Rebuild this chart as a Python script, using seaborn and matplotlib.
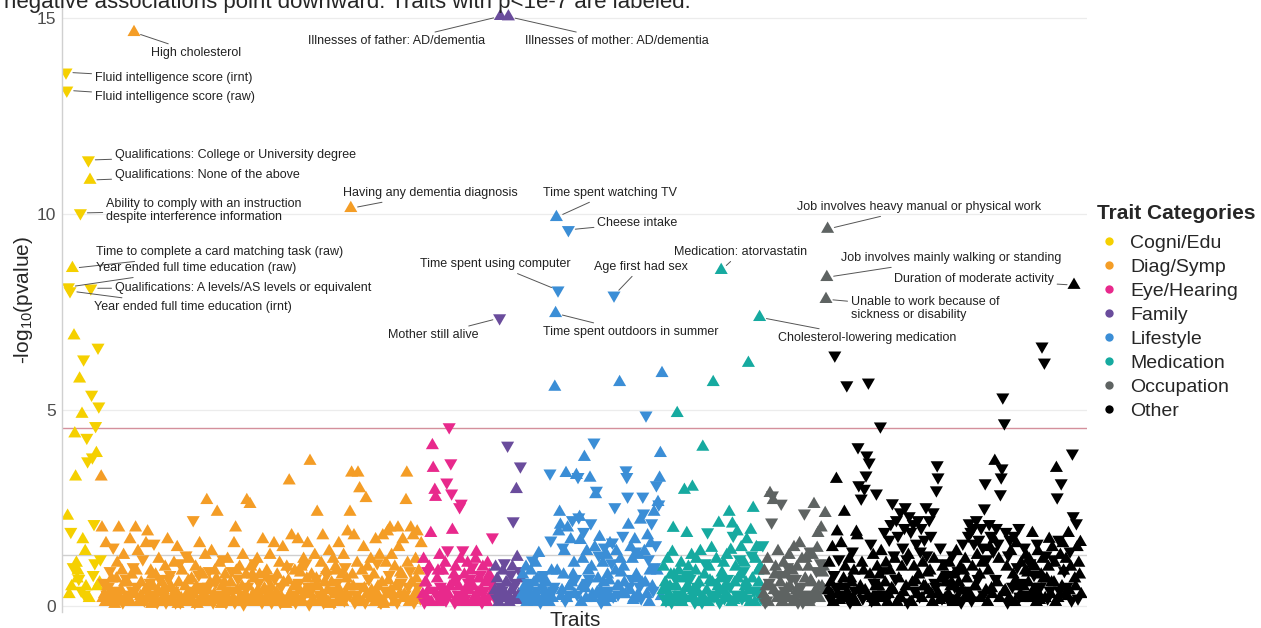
import pandas as pd
import seaborn as sns
import matplotlib.pyplot as plt
from matplotlib.lines import Line2D

# Data input: signed -log10(p) per trait, in trait order.
# Positive = positive association (triangle up), negative = negative association (triangle down)
categories = ['Cogni/Edu', 'Diag/Symp', 'Eye/Hearing', 'Family', 'Lifestyle', 'Medication', 'Occupation', 'Other']
colors = ['#F5D000', '#F49D26', '#E8298C', '#6A4C9C', '#3B8ED6', '#16AAA0', '#5E6362', '#000000']

cogni_edu = [-13.62, -13.16, 2.3, -8.14, 0.3, -8.04, -1.9, 0.5, 8.62, -1.0, 6.9, 4.4, 3.3, 1.1, 0.7,
             0.9, -0.7, 5.8, -10.03, -0.4, 4.9, 1.7, -6.3, -0.3, 1.4, 0.5, -4.3, -3.7, -11.38, 0.2,
             10.87, -8.11, -5.4, -3.8, -0.8, -2.1, -1.1, -4.6, 3.9, 0.5, -6.6, -5.1, 0.6, -1.2]

diag_symp = [
    3.3, 2.0, 0.2, -0.6, 0.3, 0.1, 1.6, -0.3, 0.5, -0.5, 0.1, -0.9, 0.3, 0.7, 0.15, -1.5, 0.2, 0.05, -0.4, 0.7, 1.1, 0.3, 2.0, -0.2, -0.2,
    0.4, 0.9, -0.1, 1.3, 0.6, 0.2, -0.7, 0.1, 0.6, 0.1, -0.3, 1.7, 0.1, 0.8, -0.4, -1.0, 14.64, 0.3, 2.0, 0.9, -0.5, 1.4, 0.1, -0.2, 0.25,
    0.6, 0.2, -1.2, 0.1, -0.15, 0.4, 1.6, -0.2, 1.9, 0.5, 0.3, -0.6, 0.9, 0.05, 0.8, 0.5, -1.6, 0.2, 0.8, -0.3, -0.1, 0.4, 1.2, -0.7, 0.1,
    0.1, 0.6, -0.3, 0.4, 0.45, 1.0, -0.1, 0.2, 1.7, -0.7, 0.1, -0.8, 0.5, 0.2, 0.2, -0.4, 1.1, 0.3, -0.1, 0.35, 1.5, 0.05, 0.6, -1.1, -0.1,
    0.2, 0.9, -0.2, 0.1, 0.1, 0.5, -1.3, 0.3, 0.1, 0.65, 1.2, -0.4, 0.2, 0.7, -0.25, -2.2, 0.3, -0.1, 1.0, 0.5, 0.05, 0.4, -0.8, 1.6, 0.85,
    0.2, -0.5, 0.8, 0.1, 0.3, 1.3, -0.2, 2.7, 0.4, -0.5, -0.9, 0.6, 0.1, 1.4, 0.15, -0.1, 0.3, 0.9, -0.6, 0.7, 2.4, 0.2, -0.3, 1.1, -0.2,
    0.05, 0.5, -1.2, 0.3, 0.6, 0.8, -0.1, 0.2, 1.2, 0.1, -0.4, 0.1, 0.6, -0.9, -0.4, 0.2, 1.6, -0.1, 2.0, 0.9, 0.4, -0.7, 0.1, 1.0, 0.25,
    -0.3, 0.5, 1.3, -0.05, -0.15, 0.3, 0.8, 2.7, -0.5, 0.5, 0.1, 2.6, 1.0, -0.2, 0.8, 0.3, 0.7, -1.1, 0.1, -0.3, 1.2, 0.4, -0.6, 0.8, 0.1,
    0.2, -0.1, 1.7, 0.4, 0.45, -0.8, 0.1, 0.9, 0.3, -0.7, -0.4, 1.3, 0.5, -0.1, 0.2, 0.1, 1.6, -0.7, 0.3, 0.35, 0.8, -0.2, 0.1, 1.1, -0.1,
    -0.5, 0.2, 1.5, 0.6, 0.1, -0.2, 0.05, 1.0, -1.0, 0.65, 3.2, 0.3, 0.1, 1.8, -0.25, -0.3, 0.5, 0.9, -0.1, 0.5, 0.2, 1.7, -0.6, 0.4, 0.85,
    1.0, -0.2, 0.1, 1.2, 0.3, 0.4, -1.1, 0.7, 1.6, -0.5, -0.05, 3.7, 0.3, 0.8, 0.15, -0.5, 0.1, 1.3, -0.7, 0.7, 2.4, 0.5, 0.1, -0.3, -0.2,
    1.1, 0.3, 1.8, -0.1, 0.6, 0.2, 0.9, -0.8, 0.4, 0.1, 1.4, 0.05, -0.4, 0.6, -0.4, 1.2, -0.1, 0.3, 1.0, 0.9, -0.6, 0.1, 1.6, 0.4, 0.25,
    -0.2, 0.8, 0.1, 1.3, -0.15, -1.0, 0.3, 0.7, 1.9, 0.5, -0.3, 2.4, 10.15, 3.4, 0.8, 0.5, 1.8, -0.1, 0.2, -0.3, 1.1, 3.4, 0.2, 3.0, 0.1,
    -0.5, 0.9, 0.1, 1.5, 0.45, -0.1, 2.75, 0.3, 1.0, -0.7, -0.7, 0.2, 1.2, 0.4, 0.2, -0.3, 0.8, 0.1, 1.7, 0.35, -1.1, 0.5, 0.2, 1.3, -0.1,
    -0.1, 0.6, 1.8, 0.05, 0.1, -0.4, 1.1, 0.3, 1.9, 0.65, -0.8, 2.0, 0.4, 1.3, -0.25, -0.2, 0.1, 1.0, 0.5, 0.5, -0.1, 2.0, 1.5, 0.3, 0.85,
    -0.6, 0.8, 1.7, 0.2, 0.3, -0.3, 2.7, 3.4, 1.1, -0.5, 0.1, -0.9, 2.0, 0.6, 0.15, 1.8, -0.1, 0.3, 1.2, 0.7, 1.9, -0.5, 0.9, 0.2, -0.2,
    1.6, -0.3]

eye_hearing = [
    0.3, 1.2, -0.1, 0.6, 0.6, 0.2, -0.9, 0.4, 1.0, 0.1, 1.86, 0.1, 4.1, 3.52, -0.4, 2.96, 2.78, -0.3, 0.7, 0.9, 0.1, 1.3, -0.5, 0.2, 0.25,
    0.9, -0.2, 0.4, 1.1, -0.15, -3.16, -1.43, 0.3, -4.57, 0.5, -3.65, -2.88, 1.94, 0.6, 0.8, -0.1, 1.0, 0.2, -0.7, -0.3, 0.5, -2.53, 1.2, -2.62, 0.1,
    -1.43, 0.3, 0.8, -0.2, 0.45, 0.1, 1.1, -0.6, 0.4, -0.7, 0.9, 0.1, -1.0, 0.5, 0.2, 0.2, 1.2, 1.38, -0.3, 0.35, 0.7, 0.1, -0.8, 0.4, -0.1,
    1.0, 0.2, -0.4, 0.6, 0.1, 0.1, 1.1, -0.2, 0.8, 0.65, 0.3, -0.6, -1.76, 0.5, -0.25]

family = [0.4, 1.0, -0.2, 0.7, 0.3, 0.1, -7.35, 15.05, -0.5, -0.4, 0.9, 0.2, -1.1, 0.3, 0.6, 0.6, -4.1,
          15.04, 0.1, 0.2, -0.8, 0.4, 1.0, -2.17, -0.5, 0.2, -0.6, 2.98, 1.25, 0.15, 0.3, -0.9, -3.57, 0.7]

lifestyle = [
    0.3, 0.8, -0.2, 0.5, 0.3, 1.0, 0.1, -0.6, 0.4, -0.5, 0.2, 0.9, -0.3, -1.17, 0.15, 0.6, 0.1, 1.1, -0.4, 0.7, 0.2, 1.35, 0.7, -0.1, -0.2,
    0.5, 0.2, -0.8, 0.4, 0.6, 0.1, 0.6, -0.2, 0.3, 0.1, -3.39, -1.68, 0.9, 0.2, -0.4, -0.5, 5.59, 7.47, 9.92, 0.9, -8.06, 1.9, 2.4, 2.07, 0.25,
    0.4, -1.5, 0.8, 1.4, -0.15, 3.39, 0.2, 2.0, -9.6, 0.5, -0.3, 1.7, 0.6, -2.2, 0.8, 1.1, 0.3, -0.7, 3.34, -0.3, -3.3, -2.27, 2.27, 1.68, 0.1,
    0.5, 1.2, -1.9, 3.8, 0.45, 0.2, 1.4, -0.6, 0.9, -0.7, 3.27, -2.12, 1.0, 0.3, 0.2, -4.18, 1.5, 2.85, -2.95, 0.35, 0.7, -1.3, 1.76, 0.4, -0.1,
    -0.2, 1.1, 0.6, -1.5, 0.1, 0.3, 1.3, 0.8, -0.4, 0.65, 1.6, 0.2, -1.1, -1.63, -0.25, -7.93, -2.53, 0.9, 1.4, 0.5, -0.3, 0.5, 5.71, 1.2, 0.85,
    0.3, -1.8, 1.0, 0.6, 0.3, -3.47, -3.3, -2.8, 2.07, -0.5, 0.4, 1.5, -0.7, 1.2, 0.15, 0.2, 1.7, -1.4, 0.8, 0.7, 0.3, 1.3, -0.5, 2.2, -0.2,
    0.6, -2.8, -2.37, 1.4, 0.6, -4.87, 0.3, 1.8, -1.2, 0.1, 0.9, 1.6, -2.12, 0.5, -0.4, 2.4, -1.0, -1.56, -3.09, 0.9, 2.65, -2.6, 3.27, 3.9, 0.25,
    5.94]

medication = [
    0.4, 1.0, -0.2, 0.6, -0.15, 0.1, 1.2, -0.5, 0.3, 0.5, 0.8, -0.1, 1.38, 1.99, 0.8, 0.2, -0.7, 0.5, 4.92, -0.3, 0.9, 0.1, -0.3, 1.1, 0.1,
    0.3, 0.7, 2.96, -0.2, 0.45, 1.86, 0.5, 1.0, -0.8, -0.7, 0.2, 1.3, 3.04, 0.4, 0.2, -0.1, 0.9, 1.2, -0.5, 0.35, 0.6, 0.1, 1.4, -0.3, -0.1,
    4.06, 0.2, 0.8, -1.1, 0.1, 0.4, -1.89, 0.1, 1.0, 0.65, -0.3, 1.48, 0.6, 5.71, -0.25, 0.2, -0.6, 1.2, 0.3, 0.5, 2.12, -0.1, 0.7, 8.57, 0.85,
    0.4, 1.1, -0.2, 0.5, 0.3, 1.3, -0.7, 0.2, 2.4, -0.5, 1.43, 0.1, 2.1, -1.8, 0.15, 0.6, 1.0, -0.3, 1.9, 0.7, 0.2, -1.2, 0.8, 1.5, -0.2,
    0.3, -0.9, 1.1, 0.5, 0.6, 1.7, -0.2, 6.2, 0.4, 0.1, 1.94, -1.3, 0.7, 2.5, -0.4, 0.1, 1.2, 1.5, -0.4, 0.9, 0.6, 7.37, 1.0, -0.2, 0.25,
    -1.56]

occupation = [
    0.3, 0.9, -0.1, 0.5, -0.15, 1.2, 0.1, -0.6, 2.88, 0.5, -2.14, -2.83, 2.7, 0.4, 0.8, 1.0, -0.3, 0.2, 1.4, -0.3, -0.8, 0.6, -2.62, 0.1, 0.1,
    1.1, -0.4, 0.3, 0.8, 0.45, -1.0, 0.2, 1.3, 0.5, -0.7, -0.2, 0.9, 0.1, 1.5, 0.2, -0.7, 0.4, 1.0, -0.1, 0.35, 1.6, 0.3, -0.5, 1.2, -0.1,
    0.2, -2.37, 0.7, 1.22, 0.1, -0.3, 1.0, 0.1, -1.4, 0.65, 0.6, 1.3, -0.2, 2.6, -0.25, 0.4, -0.9, 1.48, 1.86, 0.5, 0.2, -1.1, 2.0, 0.5, 0.85,
    1.0, 0.4, 2.37, 7.83, 8.39, 9.62]

other = [
    0.4, 1.1, -0.2, 0.6, 0.3, 1.5, 0.1, -0.8, -6.4, -0.5, 3.24, 1.9, 0.3, -1.2, 0.15, 0.5, 1.6, -0.3, 0.2, 0.7, 2.4, 1.0, -0.5, -5.64, -0.2,
    0.3, 1.2, -0.1, 0.7, 0.6, -1.4, 0.2, 0.9, -0.4, 0.1, 1.89, 1.8, -4.06, -3.09, -0.4, 0.5, -2.75, 1.1, -0.2, 0.9, -3.0, 0.4, -3.34, -3.85, 0.25,
    -5.71, -3.67, 0.8, -1.6, -0.15, 0.2, 1.3, -0.6, 0.1, 0.5, -2.88, 1.0, -0.3, 0.5, 0.8, -4.59, 1.4, -0.9, 0.2, -0.3, -1.9, 0.6, 1.1, -0.2, 0.1,
    0.3, -1.7, 0.9, -2.1, 0.45, -2.63, 0.4, -1.3, 1.2, -0.7, -2.2, 0.1, -1.8, 0.7, 0.2, -2.4, 0.2, 1.0, -1.5, 0.35, -2.0, -2.53, 0.5, -1.2, -0.1,
    1.3, -2.3, 0.1, -1.9, 0.1, 0.6, -2.1, 1.0, -0.4, 0.65, -1.6, 0.3, -2.2, 0.8, -0.25, -1.4, -2.0, 0.2, 1.1, 0.5, -1.7, 0.5, -2.53, -1.3, 0.85,
    0.4, -2.2, 0.9, -1.8, 0.3, 0.1, -2.4, 1.2, -0.6, -0.5, -2.96, -3.6, -3.29, 0.3, 0.15, -1.5, 0.7, -0.2, 1.0, 0.7, -1.1, 0.2, 0.6, -0.8, -0.2,
    0.3, 1.1, -0.2, 0.5, 0.6, -1.3, 0.1, 0.8, -0.5, 0.1, 1.4, 0.2, -0.9, 0.6, -0.4, 1.0, -0.1, 0.4, -1.6, 0.9, 0.2, 1.2, -0.4, 0.7, 0.25,
    -1.8, -2.12, 0.3, -1.9, -0.15, 1.0, -2.0, -1.6, 0.5, 0.5, -2.2, 1.3, -0.7, -1.7, 0.8, 0.2, -2.0, 1.1, -1.5, -0.3, -2.5, -3.14, 0.4, -1.2, 0.1,
    0.9, -2.1, 1.5, -1.8, 0.45, 0.3, -1.4, 1.7, 3.7, -0.7, -2.0, 0.6, -1.6, 1.2, 0.2, -2.86, -3.29, -3.52, -5.33, 0.35, -4.67, 0.4, -1.9, 1.0, -0.1,
    -1.3, 0.2, -1.7, 1.4, 0.1, -0.5, 0.8, -1.8, 0.1, 0.65, 1.6, -1.0, 0.5, -2.0, -0.25, 0.3, 1.1, -0.6, 0.2, 0.5, -1.5, 0.9, 1.3, -0.3, 0.85,
    0.6, 1.2, -1.1, 0.2, 0.3, 1.86, 0.4, -0.8, 1.0, -0.5, 0.1, -1.6, 1.4, 0.3, 0.15, -0.5, 0.8, -6.63, 1.2, 0.7, -6.22, 0.2, -1.3, 0.7, -0.2,
    1.0, 1.71, -0.4, 0.3, 0.6, 1.5, -1.2, 0.6, 1.1, 0.1, 3.52, -2.78, 0.2, -1.7, -0.4, 1.3, -3.14, 0.5, 1.6, 0.9, -0.9, 0.3, 1.2, -0.5, 0.25,
    1.86, 0.4, -1.4, 1.0, -0.15, -3.9, -2.3, 8.19, 0.7, 0.5, -2.12, 1.5, -0.2, 1.1, 0.8, 1.63, 0.3]

bonferroni = 4.54   # red line
nominal = 1.30      # -log10(0.05), grey line

# Labeled traits (p < 1e-7): category, signed value, label
label_traits = [
    ('Diag/Symp', 14.64, 'High cholesterol'),
    ('Family', 15.05, 'Illnesses of father: AD/dementia'),
    ('Family', 15.04, 'Illnesses of mother: AD/dementia'),
    ('Cogni/Edu', -13.62, 'Fluid intelligence score (irnt)'),
    ('Cogni/Edu', -13.16, 'Fluid intelligence score (raw)'),
    ('Cogni/Edu', -11.38, 'Qualifications: College or University degree'),
    ('Cogni/Edu', 10.87, 'Qualifications: None of the above'),
    ('Cogni/Edu', -10.03, 'Ability to comply with an instruction\ndespite interference information'),
    ('Cogni/Edu', 8.62, 'Time to complete a card matching task (raw)'),
    ('Cogni/Edu', -8.14, 'Year ended full time education (raw)'),
    ('Cogni/Edu', -8.11, 'Qualifications: A levels/AS levels or equivalent'),
    ('Cogni/Edu', -8.04, 'Year ended full time education (irnt)'),
    ('Diag/Symp', 10.15, 'Having any dementia diagnosis'),
    ('Lifestyle', 9.92, 'Time spent watching TV'),
    ('Lifestyle', -9.6, 'Cheese intake'),
    ('Lifestyle', -8.06, 'Time spent using computer'),
    ('Lifestyle', -7.93, 'Age first had sex'),
    ('Lifestyle', 7.47, 'Time spent outdoors in summer'),
    ('Family', -7.35, 'Mother still alive'),
    ('Medication', 8.57, 'Medication: atorvastatin'),
    ('Medication', 7.37, 'Cholesterol-lowering medication'),
    ('Occupation', 9.62, 'Job involves heavy manual or physical work'),
    ('Occupation', 8.39, 'Job involves mainly walking or standing'),
    ('Occupation', 7.83, 'Unable to work because of\nsickness or disability'),
    ('Other', 8.19, 'Duration of moderate activity'),
]
# where each label text sits (x in trait units, y in -log10 p, alignment)
label_text_pos = [
    (106, 14.11, 'left'), (524, 14.41, 'right'), (574, 14.41, 'left'),
    (36, 13.47, 'left'), (36, 12.98, 'left'), (61, 11.51, 'left'), (61, 10.99, 'left'),
    (50, 10.10, 'left'), (37.5, 9.03, 'left'), (37.5, 8.62, 'left'), (61, 8.11, 'left'), (35, 7.63, 'left'),
    (346, 10.54, 'left'), (596, 10.54, 'left'), (664, 9.77, 'left'), (442, 8.72, 'left'),
    (660, 8.65, 'left'), (596, 6.99, 'left'), (402, 6.91, 'left'), (760, 9.03, 'left'),
    (890, 6.84, 'left'), (914, 10.18, 'left'), (969, 8.88, 'left'), (981, 7.60, 'left'),
    (1035, 8.34, 'left'),
]

# Build the long table
values = dict(zip(categories, [cogni_edu, diag_symp, eye_hearing, family, lifestyle, medication, occupation, other]))
rows = []
pos = 0
for cat in categories:
    for v in values[cat]:
        rows.append({'Trait': pos, 'Category': cat, 'signed': v, 'logp': abs(v),
                     'Direction': 'Up' if v > 0 else 'Down'})
        pos += 1
df = pd.DataFrame(rows)

# equilateral triangles like ggplot's filled triangles
tri_up = [(-1, -0.577), (1, -0.577), (0, 1.155)]
tri_down = [(-1, 0.577), (1, 0.577), (0, -1.155)]

# Plotting
sns.set_style('white')
plt.rcParams['font.family'] = ['Liberation Sans', 'DejaVu Sans']
plt.rcParams['mathtext.fontset'] = 'custom'
plt.rcParams['mathtext.rm'] = 'Liberation Sans'

fig = plt.figure(figsize=(12.61, 6.28), dpi=100)
ax = fig.add_axes([62 / 1261, 16 / 628, 1025 / 1261, 604 / 628])

ax.axhline(bonferroni, color='#d4909c', lw=1.0, zorder=0.6)
ax.axhline(nominal, color='#cfcfcf', lw=1.0, zorder=0.6)

sns.scatterplot(data=df, x='Trait', y='logp', hue='Category', hue_order=categories, palette=colors,
                style='Direction', markers={'Up': tri_up, 'Down': tri_down}, s=118, linewidth=0,
                legend=False, ax=ax, zorder=2)

for (cat, val, text), (tx, ty, ha) in zip(label_traits, label_text_pos):
    pt = df[(df['Category'] == cat) & (df['signed'] == val)].iloc[0]
    ax.annotate(text, xy=(pt['Trait'], pt['logp']), xytext=(tx, ty), ha=ha, va='center',
                fontsize=9, color='#222222', linespacing=1.1,
                arrowprops=dict(arrowstyle='-', color='#555555', lw=0.7, shrinkA=0, shrinkB=5))

ax.set_xlim(-5, 1276.25)
ax.set_ylim(-0.15, 15.26)
ax.set_xticks([])
ax.set_yticks([0, 5, 10, 15])
ax.tick_params(axis='y', labelsize=12.5, labelcolor='#4d4d4d', length=0, pad=4)
ax.yaxis.grid(True, color='#ececec', lw=0.9)
ax.set_axisbelow(True)
for side in ['top', 'right', 'bottom']:
    ax.spines[side].set_visible(False)
ax.spines['left'].set_color('#d0d0d0')
ax.spines['left'].set_linewidth(1.0)
ax.set_xlabel('')
ax.set_ylabel('')

fig.text(575 / 1261, 1 - 621 / 628, 'Traits', ha='center', va='center', fontsize=15)
fig.text(24 / 1261, 1 - 300 / 628, '-log$_{10}$(pvalue)', ha='center', va='center', rotation=90, fontsize=15)
fig.text(4 / 1261, 1 - 8 / 628, 'negative associations point downward. Traits with p<1e-7 are labeled.',
         ha='left', va='baseline', fontsize=16)

handles = [Line2D([0], [0], marker='o', linestyle='', markersize=6, markerfacecolor=c, markeredgewidth=0)
           for c in colors]
leg = ax.legend(handles, categories, title='Trait Categories', loc='upper left',
                bbox_to_anchor=(1097 / 1261, 1 - 204 / 628), bbox_transform=fig.transFigure,
                frameon=False, fontsize=14, title_fontproperties={'weight': 'bold', 'size': 15},
                handletextpad=0.5, labelspacing=0.33, borderpad=0, borderaxespad=0,
                handlelength=1.2, alignment='left')
leg._legend_box.sep = 8

plt.savefig('out.png', dpi=100)
